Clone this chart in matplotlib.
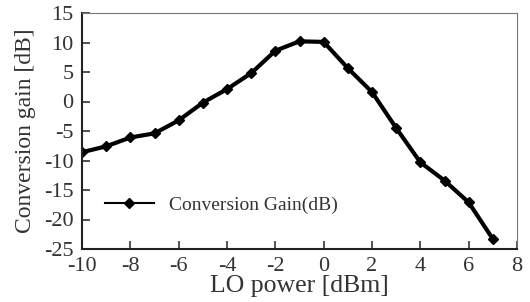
import matplotlib
matplotlib.use("Agg")
import matplotlib.pyplot as plt
from matplotlib.lines import Line2D

# LO power sweep (dBm) and measured conversion gain (dB)
lo_power = [-10, -9, -8, -7, -6, -5, -4, -3, -2, -1, 0, 1, 2, 3, 4, 5, 6, 7]
conv_gain = [-8.6, -7.6, -6.1, -5.4, -3.2, -0.2, 2.1, 4.8, 8.6, 10.2, 10.1,
             5.65, 1.6, -4.5, -10.3, -13.4, -17.1, -23.3]

x_ticks = [-10, -8, -6, -4, -2, 0, 2, 4, 6, 8]
y_ticks = [-25, -20, -15, -10, -5, 0, 5, 10, 15]

plt.rcParams["font.family"] = ["Liberation Serif", "DejaVu Serif"]
plt.rcParams["axes.unicode_minus"] = False

fig = plt.figure(figsize=(5.3, 3.02), dpi=100)
ax = fig.add_axes([82 / 530, 1 - 249 / 302, (517 - 82) / 530, (249 - 13) / 302])

ax.plot(lo_power, conv_gain, color="black", linewidth=3, marker="D",
        markersize=5, label="Conversion Gain(dB)")

ax.set_xlim(-10, 8)
ax.set_ylim(-25, 15)
ax.set_xticks(x_ticks)
ax.set_yticks(y_ticks)
ax.tick_params(axis="both", direction="in", length=6, width=1.2,
               labelsize=16, colors="#333333")
ax.tick_params(axis="y", pad=6)
ax.tick_params(axis="x", pad=6)
ax.tick_params(top=False, right=False)

for side in ["left", "bottom"]:
    ax.spines[side].set_linewidth(1.5)
    ax.spines[side].set_color("#222222")
for side in ["top", "right"]:
    ax.spines[side].set_linewidth(0.8)
    ax.spines[side].set_color("#777777")

ax.set_xlabel("LO power [dBm]", fontsize=18.5, color="#333333", labelpad=-1)
ax.set_ylabel("Conversion gain [dB]", fontsize=17, color="#333333", labelpad=6)

handle = Line2D([], [], color="black", linewidth=1.5, marker="D", markersize=5)
ax.legend([handle], ["Conversion Gain(dB)"], loc="center left",
          bbox_to_anchor=(0.053, 0.186), frameon=False, fontsize=14,
          borderpad=0, borderaxespad=0,
          handlelength=2.5, handletextpad=0.8, labelcolor="#333333")

fig.savefig("out.png", dpi=100)
